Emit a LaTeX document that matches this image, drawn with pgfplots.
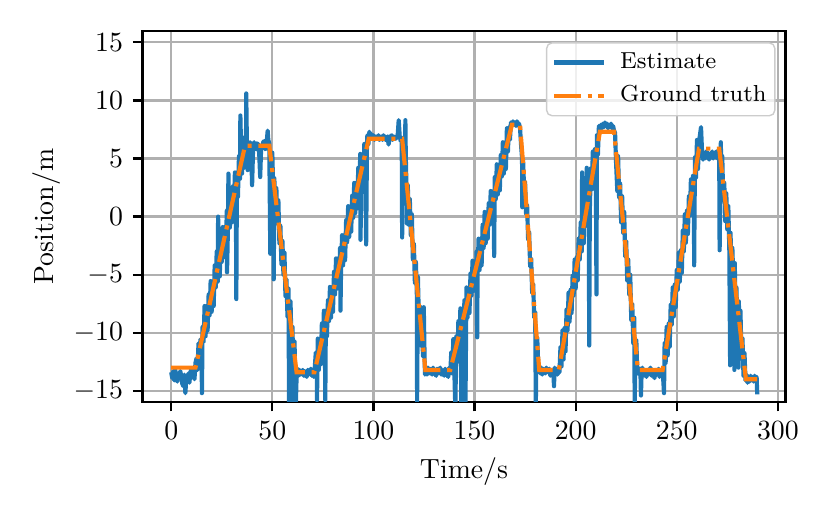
\documentclass[border=0pt]{standalone}
\usepackage{pgfplots}
\pgfplotsset{compat=1.18}
\definecolor{mblue}{HTML}{1F77B4}
\definecolor{morange}{HTML}{FF7F0E}
\definecolor{mgrid}{HTML}{B0B0B0}
\begin{document}
\begin{tikzpicture}
\begin{axis}[
  scale only axis, width=231.5pt, height=133.3pt,
  xmin=-14.2, xmax=303.8, ymin=-15.93, ymax=15.94,
  xtick={0,50,...,300}, ytick={-15,-10,...,15},
  xtick pos=bottom, ytick pos=left,
  tick align=outside, major tick length=3.5pt,
  every tick/.style={black, line width=0.8pt},
  axis line style={line width=0.8pt},
  grid=major, major grid style={line width=0.8pt, color=mgrid},
  xlabel={Time/s}, ylabel={Position/m},
  ylabel style={xshift=0pt, yshift=-2.3pt},
  legend style={
    at={(1,1)}, anchor=north east, xshift=-3.6pt, yshift=-3.9pt,
    draw=black!20, line width=0.5pt, rounded corners=2pt, fill=white,
    fill opacity=0.8, text opacity=1,
    font=\fontsize{8.33}{10}\selectfont,
    inner xsep=2pt, inner ysep=2.5pt, row sep=2.7pt, column sep=4pt,
    nodes={inner sep=1pt},
    cells={anchor=west},
  },
  legend image code/.code={\draw[#1] (0pt,0pt) -- (18pt,0pt);},
  clip=true,
]
\addplot[mblue, line width=1.5pt, line join=round] coordinates {
(0,-13.4) (0.5,-13.9) (1,-13.3) (1.5,-14.1) (2,-13.2) (2.5,-13.8) (3,-14.2) (3.5,-13.5) (4,-13.9) (4.5,-13.3)
(5,-13.8) (5.5,-14.4) (6,-14.6) (6.5,-13.6) (7,-15.2) (7.5,-13.8) (8,-14.1) (8.5,-13.5) (9,-14.3) (9.5,-13.4)
(10,-13.1) (10.5,-13.8) (11,-13.5) (11.5,-14.0) (12,-12.6) (12.5,-12.2) (13,-13.2) (13.5,-10.9) (14,-12.2) (14.5,-10.55)
(15,-11.7) (15.2,-15.2) (15.5,-9.5) (16,-10.8) (16.5,-7.7) (17,-10.3) (17.5,-7.7) (18,-9.8) (18.5,-6.7) (19,-8.5)
(19.5,-5.55) (20,-8.2) (20.5,-5.6) (21,-7.7) (21.5,-4.2) (22,-6.1) (22.5,-3.0) (23,-5.6) (23.2,0.0) (23.5,-3.0)
(24,-5.15) (24.5,-2.1) (25,-3.9) (25.5,-0.9) (26,-3.5) (26.5,-0.9) (27,-3.0) (27.5,0.5) (27.6,-4.8) (28,-1.4)
(28.3,3.7) (28.5,1.7) (29,-0.95) (29.5,1.6) (30,-0.5) (30.5,2.6) (31,0.8) (31.5,3.8) (32,1.2) (32.2,-7.1)
(32.5,3.8) (33,1.7) (33.5,5.2) (34,3.25) (34.2,8.7) (34.5,6.3) (35,3.7) (35.5,6.3) (36,4.2) (36.5,6.9)
(37,6.5) (37.1,10.6) (37.4,6.6) (37.8,4.0) (38,6.3) (38.5,5.9) (39,6.4) (39.5,6.0) (40,2.7) (40.5,6.0)
(41,6.4) (41.5,5.9) (42,5.8) (42.5,6.3) (43,6.2) (43.5,5.5) (44,3.4) (44.5,6.1) (45,6.0) (45.5,6.4)
(46,6.5) (46.5,5.8) (47,5.9) (47.7,7.4) (48,6.6) (48.5,6.3) (49,-3.2) (49.3,5.2) (49.5,3.7) (50,5.5)
(50.5,1.8) (50.7,-5.4) (51,3.3) (51.5,0.1) (52,2.45) (52.5,-0.6) (53,1.4) (53.5,-2.3) (54,-0.8) (54.5,-4.1)
(55,-2.1) (55.5,-5.0) (56,-3.1) (56.5,-6.85) (57,-5.4) (57.5,-8.6) (58,-6.2) (58.3,-17) (58.5,-9.2) (59,-7.3)
(59.5,-11.0) (60,-9.5) (60.5,-17) (61,-10.75) (61.5,-17) (62,-13.8) (62.5,-13.1) (63,-13.7) (63.5,-13.2) (64,-13.6)
(65,-13.2) (65.5,-13.7) (66,-13.3) (67,-13.8) (67.5,-13.2) (68,-13.6) (69,-13.1) (69.5,-13.7) (70,-13.3) (70.5,-13.8)
(71,-13.0) (71.5,-11.7) (72,-13.5) (72.1,-15.8) (72.5,-10.5) (73,-13.2) (73.5,-10.6) (74,-12.7) (74.5,-9.2) (75,-11.2)
(75.5,-8.1) (76,-10.7) (76.2,-15.8) (76.5,-8.1) (77,-10.3) (77.5,-7.2) (78,-9.0) (78.5,-6.05) (79,-8.7) (79.5,-6.1)
(80,-8.2) (80.5,-4.75) (81,-6.7) (81.5,-3.6) (82,-6.2) (82.5,-3.7) (83,-5.8) (83.5,-2.7) (83.7,-8.1) (84,-4.5)
(84.5,-1.6) (85,-4.2) (85.5,-1.6) (86,-3.75) (86.5,-0.3) (87,-2.2) (87.5,0.9) (88,-1.75) (88.5,0.8) (89,-1.3)
(89.5,1.8) (90,-0.1) (90.5,2.9) (91,0.3) (91.5,2.9) (92,0.7) (92.5,4.2) (93,2.3) (93.5,5.4) (93.6,-2.0)
(94,2.7) (94.5,5.3) (95,3.2) (95.5,6.25) (96,4.4) (96.4,-2.4) (96.8,6.2) (97,7.0) (97.5,6.2) (98,7.3)
(98.5,6.8) (99,7.1) (99.5,6.7) (100,7.0) (100.5,6.6) (101,6.9) (102,6.7) (102.5,7.0) (103,6.6) (104,6.9)
(104.5,6.6) (105,7.0) (106,6.6) (107,6.9) (107.5,6.2) (108,6.8) (109,7.0) (109.5,6.6) (110,6.9) (111,6.7)
(112,7.0) (112.5,8.3) (113,6.9) (113.5,6.5) (114,6.8) (114.2,-1.8) (114.6,6.4) (115,6.5) (115.5,3.45) (115.8,8.3)
(116,5.2) (116.5,1.3) (116.6,-0.6) (117,2.7) (117.5,-0.7) (118,1.5) (118.5,-1.6) (119,0.2) (119.5,-3.7) (120,-2.3)
(120.5,-5.7) (121,-3.9) (121.5,-6.9) (121.6,-15.9) (122,-5.2) (122.5,-9.05) (123,-7.7) (123.5,-11.1) (124,-8.85) (124.5,-12.0)
(124.9,-7.8) (125.3,-12.2) (125.5,-13.6) (126,-13.0) (126.5,-13.6) (127,-13.0) (127.5,-13.5) (128,-13.1) (129,-13.6) (129.5,-13.0)
(130,-13.4) (131,-13.7) (131.5,-13.1) (132,-13.5) (133,-13.0) (133.5,-13.6) (134,-13.2) (135,-13.7) (135.5,-13.1) (136,-13.4)
(137,-13.8) (137.5,-13.0) (138,-13.5) (138.5,-11.65) (139,-13.5) (139.5,-10.55) (140,-13.2) (140.5,-16.5) (141,-10.3) (141.5,-12.5)
(142,-9.0) (142.5,-11.0) (143,-7.9) (143.5,-16.5) (144,-8.05) (144.5,-10.2) (145,-7.2) (145.5,-16.5) (146,-6.1) (146.5,-8.7)
(147,-6.2) (147.5,-8.3) (148,-4.9) (148.5,-6.8) (149,-3.8) (149.5,-6.4) (150,-3.9) (150.5,-6.05) (151,-3.0) (151.3,-10.4)
(151.5,-4.9) (152,-1.9) (152.5,-4.6) (153,-2.0) (153.5,-4.2) (154,-0.7) (154.5,-2.7) (155,0.4) (155.5,-2.3) (156,0.3)
(156.5,-1.9) (157,1.15) (157.5,-0.7) (158,2.2) (158.5,-0.4) (159,2.1) (159.5,0.0) (159.7,-3.4) (160,3.4) (160.5,1.5)
(161,4.5) (161.5,1.9) (162,4.4) (162.5,2.25) (163,5.3) (163.5,3.45) (164,6.4) (164.5,3.7) (165,6.3) (165.5,4.1)
(166,7.6) (166.5,5.6) (167,7.7) (167.5,6.6) (168,8.1) (168.5,7.8) (169,8.2) (169.5,7.9) (170,8.1) (170.5,7.8)
(171,8.2) (171.5,7.9) (172,8.0) (172.5,7.6) (173,6.2) (173.5,5.0) (173.6,0.8) (174,4.9) (174.5,2.4) (175,3.0)
(175.5,0.2) (176,1.0) (176.5,-2.0) (177,-1.3) (177.5,-4.3) (178,-3.6) (178.5,-6.6) (179,-5.8) (179.5,-8.7) (180,-8.2)
(180.3,-16.5) (180.6,-10.6) (181,-10.4) (181.5,-12.8) (182,-12.9) (182.5,-13.5) (183,-13.0) (183.5,-13.6) (184,-13.1) (185,-13.5)
(185.5,-13.0) (186,-13.4) (187,-13.1) (187.5,-13.7) (188,-13.2) (189,-13.5) (189.3,-14.6) (189.6,-13.0) (190,-13.5) (190.5,-13.1)
(191,-13.6) (191.5,-13.2) (192,-13.4) (192.5,-11.2) (193,-12.9) (193.5,-9.8) (194,-12.3) (194.5,-9.6) (195,-11.6) (195.5,-8.0)
(196,-9.8) (196.5,-6.55) (197,-9.05) (197.5,-6.3) (198,-8.3) (198.5,-5.1) (199,-6.8) (199.5,-3.7) (200,-6.2) (200.5,-3.5)
(201,-5.5) (201.5,-1.9) (202,-3.7) (202.5,-0.5) (203,-3.0) (203.2,3.8) (203.5,-0.3) (204,-2.3) (204.5,0.9) (205,-0.8)
(205.5,4.2) (206,-0.2) (206.5,2.5) (206.7,-11.1) (207,0.5) (207.5,4.15) (208,2.35) (208.5,5.6) (209,3.1) (209.5,5.8)
(210,3.8) (210.3,-6.7) (210.5,7.0) (211,5.3) (211.5,7.8) (212,7.4) (212.5,7.9) (213,7.6) (213.5,8.0) (214,7.7)
(214.5,8.1) (215,7.8) (215.5,8.0) (216,7.6) (216.5,7.9) (217,7.7) (217.5,8.0) (218,7.6) (218.5,7.8) (219,7.4)
(219.5,7.2) (220,4.6) (220.6,2.2) (221,5.2) (221.5,1.6) (222,2.9) (222.5,-0.5) (223,1.75) (223.5,-1.4) (224,0.4)
(224.5,-3.45) (225,-2.1) (225.5,-5.5) (226,-3.7) (226.5,-6.7) (227,-5.0) (227.5,-8.9) (228,-7.5) (228.5,-10.9) (229,-8.7)
(229.2,-16.5) (229.5,-11.8) (230,-10.6) (230.5,-13.5) (231,-13.0) (231.5,-13.6) (232,-13.1) (232.3,-15.4) (232.6,-13.5) (233,-13.0)
(233.5,-13.7) (234,-13.2) (235,-13.8) (235.5,-13.2) (236,-13.6) (237,-13.0) (237.5,-13.7) (238,-13.3) (239,-13.9) (239.5,-13.2)
(240,-13.6) (241,-13.1) (241.5,-13.8) (242,-13.3) (242.5,-13.6) (243,-13.1) (243.7,-15.2) (244,-10.9) (244.5,-12.6) (245,-9.5)
(245.5,-11.95) (246,-9.2) (246.5,-11.2) (247,-7.6) (247.5,-9.3) (248,-6.1) (248.5,-8.6) (249,-5.85) (249.5,-7.8) (250,-4.6)
(250.5,-6.3) (251,-3.1) (251.5,-5.6) (252,-2.9) (252.5,-4.85) (253,-1.2) (253.5,-3.0) (254,0.2) (254.5,-2.25) (255,0.5)
(255.5,-1.5) (256,1.75) (256.5,0.1) (257,3.2) (257.5,0.75) (258,3.5) (258.5,1.5) (258.6,-4.2) (259,5.1) (259.5,3.35)
(260,6.6) (260.5,4.1) (261,6.4) (262,7.7) (262.5,5.6) (263,4.9) (263.5,5.5) (264,5.0) (264.5,5.6) (265,5.1)
(265.5,5.5) (266,4.9) (266.5,5.4) (267,5.1) (267.5,5.6) (268,5.0) (268.5,5.5) (269,5.1) (269.5,5.6) (270,5.0)
(270.5,5.7) (271,5.3) (271.2,-2.9) (271.8,6.4) (272,3.4) (272.5,5.2) (273,1.4) (273.5,2.9) (274,-0.4) (274.5,2.0)
(275,-1.1) (275.5,0.9) (276,-2.9) (276.4,-12.8) (276.6,-1.4) (277,-4.7) (277.5,-2.7) (278,-5.7) (278.5,-13.2) (278.7,-4.0)
(279,-7.6) (279.5,-6.1) (280,-9.4) (280.5,-13.0) (280.7,-7.3) (281,-10.1) (281.5,-8.1) (282,-11.9) (282.5,-10.45) (283,-13.7)
(283.5,-11.75) (284,-14.1) (284.5,-13.6) (285,-14.3) (285.5,-13.8) (286,-14.2) (286.5,-13.7) (287,-14.1) (287.5,-13.8) (288,-14.2)
(288.5,-13.7) (289,-14.0) (289.5,-13.8) (289.8,-15.3)
};
\addlegendentry{Estimate}
\addplot[morange, line width=1.5pt, line cap=butt, dash pattern=on 9.6pt off 2.4pt on 1.5pt off 2.4pt] coordinates {
(0,-13.0) (12,-13.0) (36.5,6.1) (48.5,6.1) (62,-13.4) (70.8,-13.4) (97.7,6.7) (114.2,6.7) (125.7,-13.2) (138,-13.2)
(168.5,7.9) (172.5,7.9) (182,-13.2) (191.7,-13.2) (212,7.3) (219,7.3) (230.8,-13.2) (243,-13.2) (261,5.85) (271,5.85)
(284.2,-14) (289.8,-14)
};
\addlegendentry{Ground truth}
\end{axis}
\pgfresetboundingbox
\path ([shift={(-51.3pt,-42.2pt)}]current axis.south west) rectangle ([shift={(16pt,11.3pt)}]current axis.north east);
\end{tikzpicture}
\end{document}
